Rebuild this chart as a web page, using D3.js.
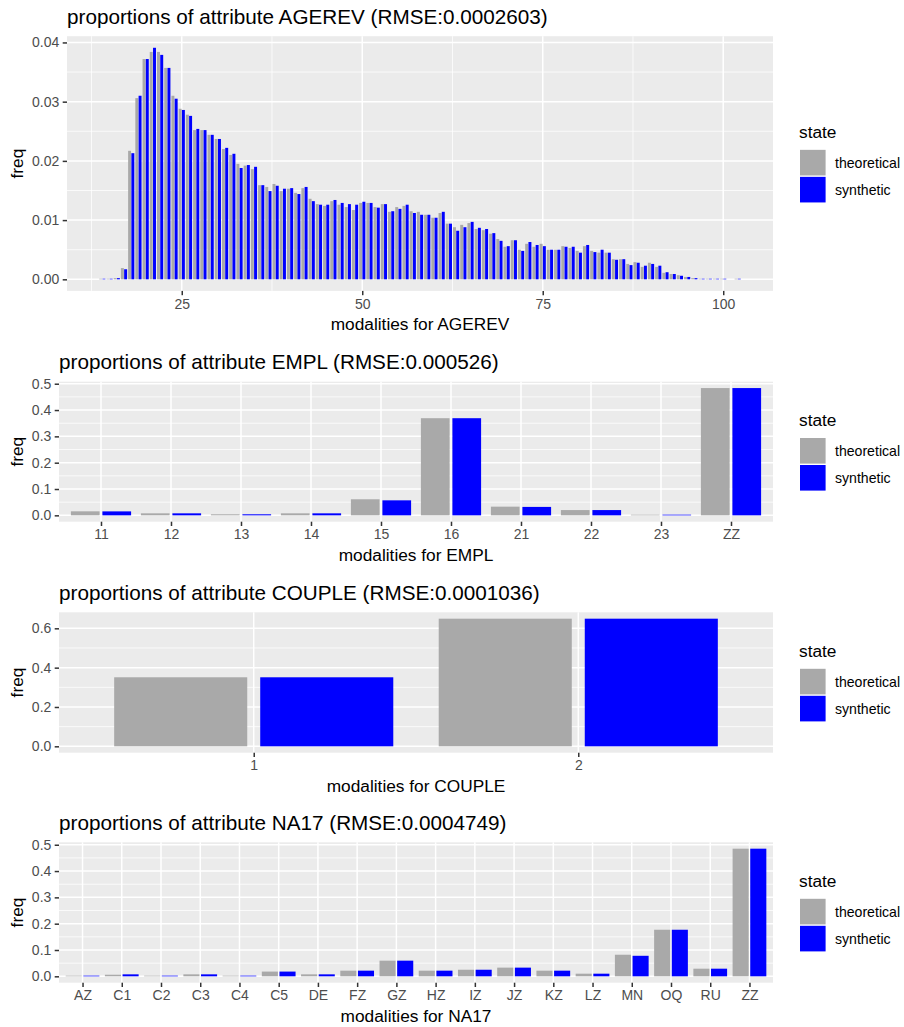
<!DOCTYPE html>
<html>
<head>
<meta charset="utf-8">
<script src="https://cdn.jsdelivr.net/npm/d3@7"></script>
<style>
  html, body { margin: 0; padding: 0; background: #ffffff; }
  svg { display: block; font-family: "Liberation Sans", Arial, Helvetica, sans-serif; }
</style>
</head>
<body>
<svg id="chart" width="904" height="1027"></svg>
<script>
// ---------------- DATA ----------------
const states = ["theoretical", "synthetic"];

// AGEREV
const agerevModalities = [14,15,16,17,18,19,20,21,22,23,24,25,26,27,28,29,30,31,32,33,34,35,36,37,38,39,40,41,42,43,44,45,46,47,48,49,50,51,52,53,54,55,56,57,58,59,60,61,62,63,64,65,66,67,68,69,70,71,72,73,74,75,76,77,78,79,80,81,82,83,84,85,86,87,88,89,90,91,92,93,94,95,96,97,98,99,100,102];
const agerevTheoretical = [0.0001,0.0001,0.0002,0.0019,0.0217,0.0306,0.0372,0.0384,0.0384,0.0357,0.0310,0.0288,0.0278,0.0252,0.0252,0.0244,0.0237,0.0220,0.0210,0.0195,0.0192,0.0186,0.0159,0.0156,0.0161,0.0149,0.0153,0.0146,0.0154,0.0136,0.0127,0.0124,0.0132,0.0126,0.0122,0.0117,0.0129,0.0129,0.0122,0.0127,0.0114,0.0122,0.0124,0.0115,0.0114,0.0109,0.0104,0.0112,0.0094,0.0088,0.0092,0.0095,0.0085,0.0083,0.0077,0.0068,0.0055,0.0066,0.0050,0.0060,0.0055,0.0060,0.0050,0.0050,0.0056,0.0053,0.0048,0.0056,0.0048,0.0045,0.0045,0.0034,0.0034,0.0026,0.0029,0.0021,0.0028,0.0021,0.0011,0.0009,0.0007,0.0004,0.0002,0.0001,0.0001,0.0001,0.0001,0.0001];
const agerevSynthetic   = [0.0001,0.0001,0.0002,0.0017,0.0213,0.0310,0.0372,0.0391,0.0379,0.0357,0.0305,0.0286,0.0276,0.0254,0.0252,0.0244,0.0237,0.0222,0.0212,0.0188,0.0193,0.0190,0.0159,0.0149,0.0158,0.0153,0.0154,0.0144,0.0156,0.0132,0.0126,0.0126,0.0134,0.0129,0.0127,0.0126,0.0131,0.0129,0.0121,0.0127,0.0115,0.0119,0.0126,0.0112,0.0109,0.0109,0.0104,0.0114,0.0094,0.0082,0.0088,0.0097,0.0087,0.0085,0.0078,0.0065,0.0056,0.0066,0.0048,0.0063,0.0058,0.0056,0.0050,0.0050,0.0055,0.0055,0.0045,0.0058,0.0046,0.0050,0.0045,0.0033,0.0034,0.0024,0.0028,0.0023,0.0026,0.0023,0.0012,0.0009,0.0006,0.0004,0.0002,0.0001,0.0001,0.0001,0.0001,0.0001];
const agerevXTicks = [25, 50, 75, 100];
const agerevXMinor = [12.5, 37.5, 62.5, 87.5];
const agerevYTicks = [0, 0.01, 0.02, 0.03, 0.04];
const agerevYLabels = ["0.00", "0.01", "0.02", "0.03", "0.04"];
const agerevYMinor = [0.005, 0.015, 0.025, 0.035];

// EMPL
const emplModalities = ["11","12","13","14","15","16","21","22","23","ZZ"];
const emplTheoretical = [0.0152,0.0076,0.0040,0.0076,0.0610,0.3690,0.0330,0.0200,0.0025,0.4835];
const emplSynthetic   = [0.0150,0.0076,0.0040,0.0076,0.0570,0.3690,0.0320,0.0200,0.0025,0.4835];
const emplYTicks = [0, 0.1, 0.2, 0.3, 0.4, 0.5];
const emplYLabels = ["0.0", "0.1", "0.2", "0.3", "0.4", "0.5"];
const emplYMinor = [0.05, 0.15, 0.25, 0.35, 0.45];

// COUPLE
const coupleModalities = ["1","2"];
const coupleTheoretical = [0.351, 0.649];
const coupleSynthetic   = [0.351, 0.649];
const coupleYTicks = [0, 0.2, 0.4, 0.6];
const coupleYLabels = ["0.0", "0.2", "0.4", "0.6"];
const coupleYMinor = [0.1, 0.3, 0.5];

// NA17
const na17Modalities = ["AZ","C1","C2","C3","C4","C5","DE","FZ","GZ","HZ","IZ","JZ","KZ","LZ","MN","OQ","RU","ZZ"];
const na17Theoretical = [0.0025,0.0060,0.0025,0.0075,0.0025,0.0180,0.0075,0.0215,0.0595,0.0215,0.0250,0.0330,0.0215,0.0100,0.0820,0.1770,0.0290,0.4850];
const na17Synthetic   = [0.0025,0.0075,0.0025,0.0075,0.0025,0.0180,0.0075,0.0215,0.0595,0.0215,0.0250,0.0330,0.0215,0.0100,0.0780,0.1770,0.0290,0.4850];
const na17YTicks = [0, 0.1, 0.2, 0.3, 0.4, 0.5];
const na17YLabels = ["0.0", "0.1", "0.2", "0.3", "0.4", "0.5"];
const na17YMinor = [0.05, 0.15, 0.25, 0.35, 0.45];

// ---------------- STYLE / LAYOUT ----------------
const COLORS = { theoretical: "#A9A9A9", synthetic: "#0000FF" };
const PANEL_BG = "#EBEBEB";
const TICK_COLOR = "#333333";
const TICK_TEXT = "#4D4D4D";
const F_TITLE = 20.7, F_AXIS_TITLE = 17.3, F_TICK = 14, F_LEGEND_TITLE = 17.3, F_LEGEND = 14.1;
const TICK_LEN = 4.3, TICK_PAD = 3.4;
const BAR_W = 0.41, DODGE = 0.225;

const svg = d3.select("#chart");

function drawPanel(cfg) {
  const { name, left, right, top, bottom, theo, synth, discrete, cats } = cfg;
  const g = svg.append("g");
  const maxV = d3.max(theo.concat(synth));
  const y = d3.scaleLinear().domain([-0.05 * maxV, 1.05 * maxV]).range([bottom, top]);

  let xPos, step, xs, xl;
  if (discrete) {
    xs = d3.scalePoint().domain(cats).range([left, right]).padding(0.6);
    xPos = d => xs(d);
    step = xs.step();
  } else {
    const lo = d3.min(cats) - 0.45, hi = d3.max(cats) + 0.45;
    const ex = (hi - lo) * 0.05;
    xl = d3.scaleLinear().domain([lo - ex, hi + ex]).range([left, right]);
    xPos = d => xl(d);
    step = xl(1) - xl(0);
  }

  // panel background
  g.append("rect").attr("x", left).attr("y", top)
    .attr("width", right - left).attr("height", bottom - top).attr("fill", PANEL_BG);

  // minor grid
  cfg.yMinor.forEach(v => {
    g.append("line").attr("x1", left).attr("x2", right).attr("y1", y(v)).attr("y2", y(v))
      .attr("stroke", "#fff").attr("stroke-width", 0.75);
  });
  if (!discrete) {
    cfg.xMinor.forEach(v => {
      g.append("line").attr("y1", top).attr("y2", bottom).attr("x1", xl(v)).attr("x2", xl(v))
        .attr("stroke", "#fff").attr("stroke-width", 0.75);
    });
  }
  // major grid
  cfg.yTicks.forEach(v => {
    g.append("line").attr("x1", left).attr("x2", right).attr("y1", y(v)).attr("y2", y(v))
      .attr("stroke", "#fff").attr("stroke-width", 1.5);
  });
  const xMajor = discrete ? cats : cfg.xTicks;
  xMajor.forEach(v => {
    g.append("line").attr("y1", top).attr("y2", bottom).attr("x1", xPos(v)).attr("x2", xPos(v))
      .attr("stroke", "#fff").attr("stroke-width", 1.5);
  });

  // bars
  const rows = [];
  cats.forEach((c, i) => {
    rows.push({ c, state: "theoretical", v: theo[i], off: -DODGE });
    rows.push({ c, state: "synthetic", v: synth[i], off: DODGE });
  });
  g.append("g").selectAll("rect").data(rows).join("rect")
    .attr("x", d => xPos(d.c) + d.off * step - BAR_W * step / 2)
    .attr("width", BAR_W * step)
    .attr("y", d => y(Math.max(d.v, 0)))
    .attr("height", d => Math.abs(y(0) - y(d.v)))
    .attr("fill", d => COLORS[d.state]);

  // y axis
  const ya = d3.axisLeft(y).tickValues(cfg.yTicks)
    .tickFormat((d, i) => cfg.yLabels[i]).tickSize(TICK_LEN).tickPadding(TICK_PAD).tickSizeOuter(0);
  const yg = g.append("g").attr("transform", `translate(${left},0)`).call(ya);
  yg.select(".domain").remove();
  yg.selectAll("line").attr("stroke", TICK_COLOR).attr("stroke-width", 1.5);
  yg.selectAll("text").attr("fill", TICK_TEXT).style("font-size", F_TICK + "px")
    .style("font-family", "'Liberation Sans', Arial, sans-serif");

  // x axis
  const xa = discrete ? d3.axisBottom(xs)
    : d3.axisBottom(xl).tickValues(cfg.xTicks).tickFormat(d3.format("d"));
  xa.tickSize(TICK_LEN).tickPadding(TICK_PAD).tickSizeOuter(0);
  const xg = g.append("g").attr("transform", `translate(0,${bottom})`).call(xa);
  xg.select(".domain").remove();
  xg.selectAll("line").attr("stroke", TICK_COLOR).attr("stroke-width", 1.5);
  xg.selectAll("text").attr("fill", TICK_TEXT).style("font-size", F_TICK + "px")
    .style("font-family", "'Liberation Sans', Arial, sans-serif");

  // titles
  g.append("text").attr("x", left).attr("y", top - 12.5)
    .style("font-size", F_TITLE + "px").attr("fill", "#000")
    .text(cfg.title);
  g.append("text").attr("x", (left + right) / 2).attr("y", bottom + 39.5)
    .attr("text-anchor", "middle").style("font-size", F_AXIS_TITLE + "px").attr("fill", "#000")
    .text("modalities for " + name);
  const cy = (top + bottom) / 2;
  g.append("text").attr("transform", `translate(22.5,${cy}) rotate(-90)`)
    .attr("text-anchor", "middle").style("font-size", F_AXIS_TITLE + "px").attr("fill", "#000")
    .text("freq");

  // legend
  const lg = g.append("g");
  lg.append("text").attr("x", 799).attr("y", cy - 25.7)
    .style("font-size", F_LEGEND_TITLE + "px").attr("fill", "#000").text("state");
  states.forEach((s, i) => {
    const ky = cy - 13.7 + i * 27;
    lg.append("rect").attr("x", 800).attr("y", ky).attr("width", 25.6).attr("height", 25.6)
      .attr("fill", COLORS[s]);
    lg.append("text").attr("x", 835).attr("y", ky + 12.8).attr("dy", "0.35em")
      .style("font-size", F_LEGEND + "px").attr("fill", "#000").text(s);
  });
}

drawPanel({
  name: "AGEREV", title: "proportions of attribute AGEREV (RMSE:0.0002603)",
  left: 67, right: 773, top: 36.2, bottom: 290.9,
  cats: agerevModalities, theo: agerevTheoretical, synth: agerevSynthetic, discrete: false,
  xTicks: agerevXTicks, xMinor: agerevXMinor,
  yTicks: agerevYTicks, yLabels: agerevYLabels, yMinor: agerevYMinor
});
drawPanel({
  name: "EMPL", title: "proportions of attribute EMPL (RMSE:0.000526)",
  left: 59, right: 773, top: 381.7, bottom: 521.7,
  cats: emplModalities, theo: emplTheoretical, synth: emplSynthetic, discrete: true,
  yTicks: emplYTicks, yLabels: emplYLabels, yMinor: emplYMinor
});
drawPanel({
  name: "COUPLE", title: "proportions of attribute COUPLE (RMSE:0.0001036)",
  left: 59, right: 773, top: 612.3, bottom: 752.7,
  cats: coupleModalities, theo: coupleTheoretical, synth: coupleSynthetic, discrete: true,
  yTicks: coupleYTicks, yLabels: coupleYLabels, yMinor: coupleYMinor
});
drawPanel({
  name: "NA17", title: "proportions of attribute NA17 (RMSE:0.0004749)",
  left: 59, right: 773, top: 842.3, bottom: 982.7,
  cats: na17Modalities, theo: na17Theoretical, synth: na17Synthetic, discrete: true,
  yTicks: na17YTicks, yLabels: na17YLabels, yMinor: na17YMinor
});
</script>
</body>
</html>
